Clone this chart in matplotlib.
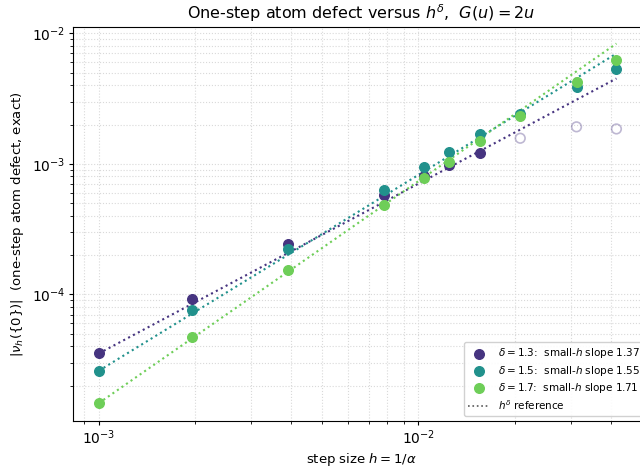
import matplotlib
matplotlib.use('Agg')
import matplotlib.pyplot as plt
import numpy as np

# step sizes h = 1/alpha
alphas = np.array([1000, 512, 256, 128, 96, 80, 64, 48, 32, 24])
h = 1.0 / alphas

deltas = [1.3, 1.5, 1.7]
small_h_slopes = [1.37, 1.55, 1.71]

# |nu_h({0})|
defect_13 = np.array([3.53e-5, 9.25e-5, 2.41e-4, 5.80e-4, 8.10e-4, 9.80e-4, 1.22e-3,
                      1.57e-3, 1.92e-3, 1.85e-3])
defect_15 = np.array([2.60e-5, 7.58e-5, 2.22e-4, 6.29e-4, 9.50e-4, 1.23e-3, 1.68e-3,
                      2.41e-3, 3.90e-3, 5.30e-3])
defect_17 = np.array([1.47e-5, 4.68e-5, 1.53e-4, 4.86e-4, 7.80e-4, 1.04e-3, 1.50e-3,
                      2.32e-3, 4.22e-3, 6.28e-3])
defects = [defect_13, defect_15, defect_17]

# points of the delta=1.3 series that are shown hollow (large h)
hollow_13 = np.array([False] * 7 + [True] * 3)
hollows = [hollow_13, np.zeros(10, bool), np.zeros(10, bool)]

colors = plt.cm.viridis([0.15, 0.5, 0.78])

fig = plt.figure(figsize=(6.4, 4.68), dpi=100)
ax = fig.add_axes([73 / 640, 47 / 468, 576 / 640, 394 / 468])

for d, s, y, hol, c in zip(deltas, small_h_slopes, defects, hollows, colors):
    ax.scatter(h[~hol], y[~hol], s=48, color=c, zorder=3,
               label=rf'$\delta = {d}$:  small-$h$ slope {s:.2f}')
    if hol.any():
        ax.scatter(h[hol], y[hol], s=48, facecolors='none', edgecolors=c,
                   alpha=0.35, linewidths=1.2, zorder=3)
    ref = y[0] * (h / h[0]) ** d
    ax.plot(h, ref, ':', color=c, linewidth=1.5, zorder=2)

ax.plot([], [], ':', color='0.35', linewidth=1.2, label=r'$h^{\delta}$ reference')

ax.set_xscale('log')
ax.set_yscale('log')
ax.set_xlim(10 ** -3.081, 10 ** -1.306 * 10 ** (9 / 324.6))
ax.set_ylim(10 ** -4.97, 10 ** -1.952)
ax.grid(True, which='both', linestyle=':', color='0.85', linewidth=0.8)
ax.tick_params(which='major', length=3, pad=2.5)
ax.tick_params(which='minor', length=2)

ax.set_title(r'One-step atom defect versus $h^{\delta}$,  $G(u) = 2u$', fontsize=11.5)
ax.set_xlabel(r'step size $h = 1/\alpha$', fontsize=9.5, labelpad=3)
ax.set_ylabel(r'$|\nu_h(\{0\})|$  (one-step atom defect, exact)', fontsize=9.5)
ax.legend(loc='lower right', fontsize=7.5, framealpha=0.9, labelspacing=0.3)

fig.savefig('out.png', dpi=100)
